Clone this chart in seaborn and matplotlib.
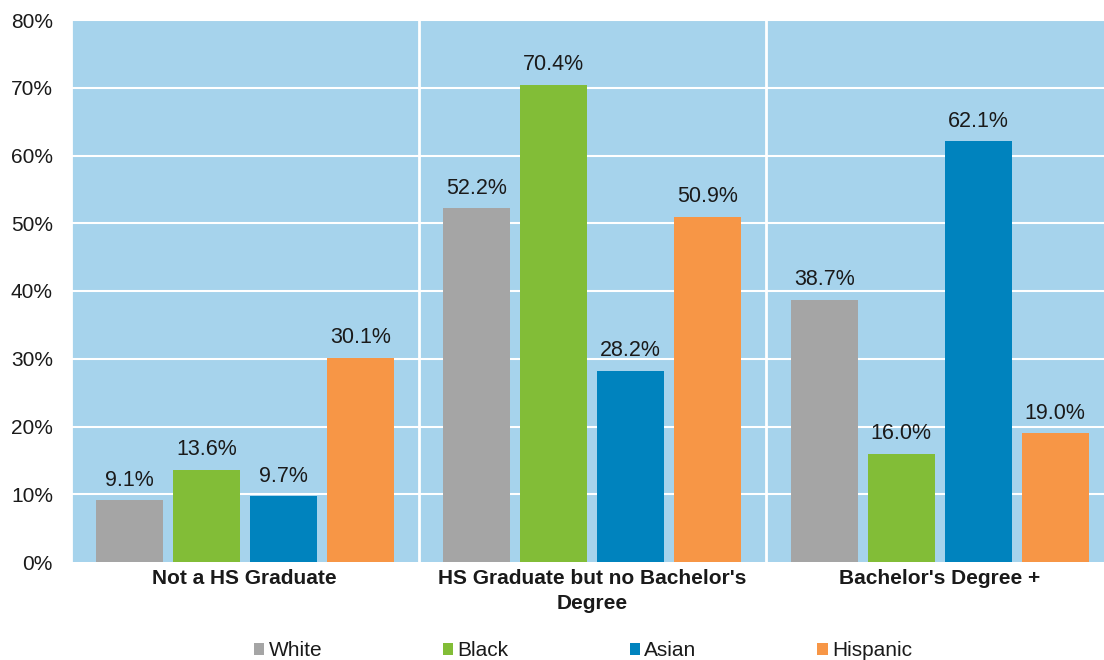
import seaborn as sns
import pandas as pd
import matplotlib.pyplot as plt

categories = ["Not a HS Graduate", "HS Graduate but no Bachelor's\nDegree", "Bachelor's Degree +"]
groups = ["White", "Black", "Asian", "Hispanic"]
white = [9.1, 52.2, 38.7]
black = [13.6, 70.4, 16.0]
asian = [9.7, 28.2, 62.1]
hispanic = [30.1, 50.9, 19.0]
yticks = [0, 10, 20, 30, 40, 50, 60, 70, 80]

colors = ["#A5A5A5", "#82BD37", "#0083BE", "#F79646"]
bg = "#A6D3EC"
txt = "#1A1A1A"

rows = []
for g, vals in zip(groups, [white, black, asian, hispanic]):
    for c, v in zip(categories, vals):
        rows.append({"category": c, "group": g, "value": v})
df = pd.DataFrame(rows)

sns.set_style("white")
plt.rcParams["font.family"] = ["Liberation Sans", "DejaVu Sans"]

fig = plt.figure(figsize=(11.04, 6.6), dpi=100)
ax = fig.add_axes([71 / 1104, 98 / 660, 1042.5 / 1104, 542 / 660])
ax.set_facecolor(bg)

sns.barplot(data=df, x="category", y="value", hue="group", order=categories,
            hue_order=groups, palette=colors, width=0.886, gap=0.13,
            linewidth=0, saturation=1, ax=ax, zorder=3)

for container in ax.containers:
    ax.bar_label(container, labels=[f"{v:.1f}%" for v in container.datavalues],
                 padding=7, fontsize=15.5, color=txt)

ax.set_ylim(0, 80)
ax.set_xlim(-0.5, 2.5)
ax.set_yticks(yticks)
ax.set_yticklabels([f"{t}%" for t in yticks], fontsize=15, color=txt)
ax.tick_params(axis="y", length=0, pad=13)
ax.tick_params(axis="x", length=0, pad=5)
for lbl in ax.get_xticklabels():
    lbl.set_fontsize(15)
    lbl.set_fontweight("bold")
    lbl.set_color(txt)
    lbl.set_linespacing(1.4)
for t in yticks[1:]:
    ax.axhline(t, color="white", lw=1.5, zorder=1)
for x in [-0.5, 0.5, 1.5, 2.5]:
    ax.axvline(x, color="white", lw=2, zorder=1)
ax.set_xlabel("")
ax.set_ylabel("")
for s in ax.spines.values():
    s.set_visible(False)

handles, labels = ax.get_legend_handles_labels()
ax.legend_.remove()
fig.legend(handles, labels, loc="center", bbox_to_anchor=(0.528, 0.014), ncol=4,
           frameon=False, fontsize=15, handlelength=0.5, handleheight=0.5,
           handletextpad=0.2, columnspacing=5.8, labelcolor=txt)

plt.savefig("out.png", dpi=100)
